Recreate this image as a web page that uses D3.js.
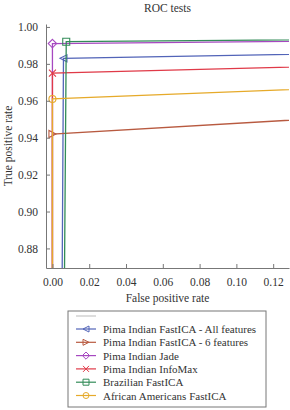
<!DOCTYPE html>
<html>
<head>
<meta charset="utf-8">
<script src="https://cdn.jsdelivr.net/npm/d3@7"></script>
<style>
  body { margin: 0; background: #fff; }
  svg text { font-family: "Liberation Serif", "DejaVu Serif", serif; fill: #333; }
</style>
</head>
<body>
<svg id="chart" width="290" height="410"></svg>
<script>
// series names, in legend order
const names = [
  'Pima Indian FastICA - All features',
  'Pima Indian FastICA - 6 features',
  'Pima Indian Jade',
  'Pima Indian InfoMax',
  'Brazilian FastICA',
  'African Americans FastICA'
];
// false positive rate / true positive rate per series (ROC points)
const fpr = [
  [0, 0.006, 1],
  [0, 0.0, 1],
  [0, 0.0, 1],
  [0, 0.0, 1],
  [0, 0.0075, 1],
  [0, 0.0, 1]
];
const tpr = [
  [0, 0.983, 1],
  [0, 0.942, 1],
  [0, 0.991, 1],
  [0, 0.975, 1],
  [0, 0.992, 1],
  [0, 0.961, 1]
];
const colors = ['#5264b8', '#b85a40', '#a648c0', '#e03a48', '#338c58', '#e6aa2a'];
const markers = ['triLeft', 'triRight', 'diamond', 'cross', 'square', 'circle'];
const xTicks = [0, 0.02, 0.04, 0.06, 0.08, 0.10, 0.12];
const yTicks = [0.88, 0.90, 0.92, 0.94, 0.96, 0.98, 1.00];

const margin = { left: 46, right: 1, top: 24, bottom: 142 };
const W = 290, H = 410;

const x = d3.scaleLinear().domain([-0.0035, 0.1286]).range([margin.left, W - margin.right]);
const y = d3.scaleLinear().domain([0.8694, 1.0016]).range([H - margin.bottom, margin.top]);

const svg = d3.select('#chart');

svg.append('defs').append('clipPath').attr('id', 'clip')
  .append('rect')
  .attr('x', margin.left).attr('y', margin.top)
  .attr('width', W - margin.right - margin.left)
  .attr('height', H - margin.bottom - margin.top);

// marker shapes, drawn around 0,0
function markerPath(kind, s) {
  if (kind === 'triLeft') return `M${-s},0L${s},${-s}L${s},${s}Z`;
  if (kind === 'triRight') return `M${s},0L${-s},${-s}L${-s},${s}Z`;
  if (kind === 'diamond') return `M0,${-s * 1.2}L${s * 1.2},0L0,${s * 1.2}L${-s * 1.2},0Z`;
  if (kind === 'cross') return `M${-s},${-s}L${s},${s}M${-s},${s}L${s},${-s}`;
  if (kind === 'square') return `M${-s},${-s}H${s}V${s}H${-s}Z`;
  return d3.arc()({ innerRadius: 0, outerRadius: s, startAngle: 0, endAngle: 2 * Math.PI });
}

const plot = svg.append('g').attr('clip-path', 'url(#clip)');

const line = d3.line().x(d => x(d[0])).y(d => y(d[1]));

names.forEach(function(name, i) {
  let pts = fpr[i].map((f, j) => [f, tpr[i][j]]);
  plot.append('path')
    .attr('d', line(pts))
    .attr('fill', 'none')
    .attr('stroke', colors[i])
    .attr('stroke-width', 1.3);
  plot.selectAll(null).data(pts).enter().append('path')
    .attr('transform', d => 'translate(' + x(d[0]) + ',' + y(d[1]) + ')')
    .attr('d', markerPath(markers[i], 3.5))
    .attr('fill', 'none')
    .attr('stroke', colors[i])
    .attr('stroke-width', 1.1);
});

// axes, ticks pointing inwards
const xAxis = svg.append('g')
  .attr('transform', 'translate(0,' + (H - margin.bottom) + ')')
  .call(d3.axisBottom(x).tickValues(xTicks).tickFormat(d3.format('.2f')).tickSizeInner(-4).tickSizeOuter(0).tickPadding(10));
const yAxis = svg.append('g')
  .attr('transform', 'translate(' + margin.left + ',0)')
  .call(d3.axisLeft(y).tickValues(yTicks).tickFormat(d3.format('.2f')).tickSizeInner(-4).tickSizeOuter(0).tickPadding(8));

[xAxis, yAxis].forEach(function(a) {
  a.select('.domain').attr('stroke', '#777');
  a.selectAll('.tick line').attr('stroke', '#777');
  a.selectAll('.tick text').attr('font-size', 11.5).attr('font-family', '"Liberation Serif", serif').attr('fill', '#333');
});

svg.append('text')
  .attr('x', (margin.left + W - margin.right) / 2).attr('y', 12)
  .attr('text-anchor', 'middle').attr('font-size', 11.5)
  .text('ROC tests');

svg.append('text')
  .attr('x', (margin.left + W - margin.right) / 2).attr('y', 302)
  .attr('text-anchor', 'middle').attr('font-size', 11.5)
  .text('False positive rate');

svg.append('text')
  .attr('transform', 'translate(12,' + ((margin.top + H - margin.bottom) / 2) + ') rotate(-90)')
  .attr('text-anchor', 'middle').attr('font-size', 11.5)
  .text('True positive rate');

// legend
const lg = svg.append('g').attr('transform', 'translate(68,311)');
lg.append('rect')
  .attr('width', 198).attr('height', 96)
  .attr('fill', '#fff').attr('stroke', '#777').attr('stroke-width', 1);

lg.append('line')
  .attr('x1', 8).attr('x2', 28).attr('y1', 5).attr('y2', 5)
  .attr('stroke', '#bbb').attr('stroke-width', 1);

names.forEach(function(name, i) {
  let ly = 18 + i * 13.3;
  lg.append('line')
    .attr('x1', 8).attr('x2', 28).attr('y1', ly).attr('y2', ly)
    .attr('stroke', colors[i]).attr('stroke-width', 1.2);
  lg.append('path')
    .attr('transform', 'translate(18,' + ly + ')')
    .attr('d', markerPath(markers[i], 3))
    .attr('fill', 'none').attr('stroke', colors[i]).attr('stroke-width', 1);
  lg.append('text')
    .attr('x', 35).attr('y', ly + 4)
    .attr('font-size', 11)
    .text(name);
});
</script>
</body>
</html>
